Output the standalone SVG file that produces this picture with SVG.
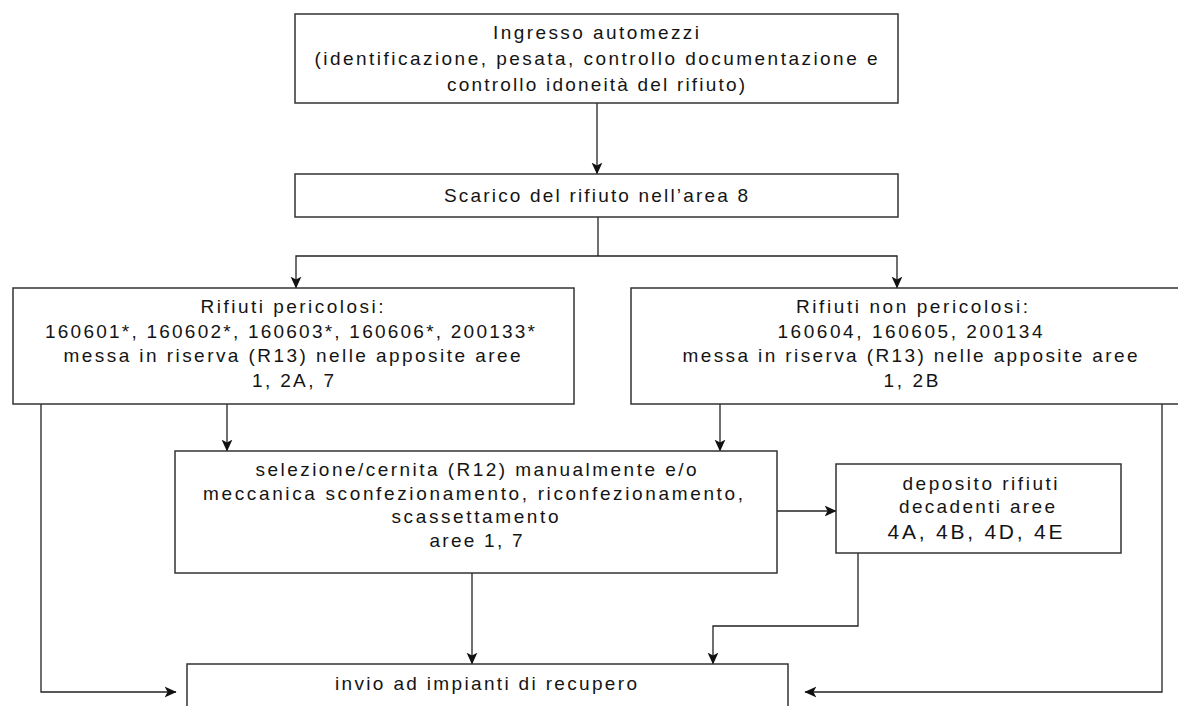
<svg xmlns="http://www.w3.org/2000/svg" width="1178" height="706" viewBox="0 0 1178 706">
<style>
.box{fill:#fff;stroke:#333;stroke-width:1.5}
.t{font-family:"Liberation Sans",Arial,sans-serif;font-size:19px;fill:#141414;text-anchor:middle}
.big{font-size:21px}
.ln{fill:none;stroke:#222;stroke-width:1.3}
</style>
<defs>
<marker id="ah" markerUnits="userSpaceOnUse" markerWidth="12" markerHeight="12" viewBox="0 0 10 10" refX="9.5" refY="5" orient="auto">
<path d="M0,0.5 L10,5 L0,9.5 L2.5,5 z" fill="#111"/>
</marker>
</defs>
<rect width="1178" height="706" fill="#fff"/>
<g id="connectors">
<path class="ln" d="M597 103 V174" marker-end="url(#ah)"/>
<path class="ln" d="M598 217 V256"/>
<path class="ln" d="M598 256 H296 V288" marker-end="url(#ah)"/>
<path class="ln" d="M598 256 H897 V288" marker-end="url(#ah)"/>
<path class="ln" d="M41 404 V692 H176" marker-end="url(#ah)"/>
<path class="ln" d="M227 404 V451" marker-end="url(#ah)"/>
<path class="ln" d="M720 404 V451" marker-end="url(#ah)"/>
<path class="ln" d="M777 511 H836" marker-end="url(#ah)"/>
<path class="ln" d="M472 573 V664" marker-end="url(#ah)"/>
<path class="ln" d="M858 553 V626 H713 V664" marker-end="url(#ah)"/>
<path class="ln" d="M1162 404 V692 H805" marker-end="url(#ah)"/>
</g>
<g id="ingresso">
<rect class="box" x="295" y="14" width="603" height="89"/>
<text class="t" x="596" y="39" textLength="206" lengthAdjust="spacing">Ingresso automezzi</text>
<text class="t" x="596" y="65" textLength="563" lengthAdjust="spacing">(identificazione, pesata, controllo documentazione e</text>
<text class="t" x="596" y="91" textLength="298" lengthAdjust="spacing">controllo idoneità del rifiuto)</text>
</g>
<g id="scarico">
<rect class="box" x="295" y="174" width="603" height="43"/>
<text class="t" x="596" y="202" textLength="304" lengthAdjust="spacing">Scarico del rifiuto nell’area 8</text>
</g>
<g id="pericolosi">
<rect class="box" x="13" y="288" width="561" height="116"/>
<text class="t" x="292" y="313" textLength="183" lengthAdjust="spacing">Rifiuti pericolosi:</text>
<text class="t" x="290" y="338" textLength="490" lengthAdjust="spacing">160601*, 160602*, 160603*, 160606*, 200133*</text>
<text class="t" x="292" y="362" textLength="457" lengthAdjust="spacing">messa in riserva (R13) nelle apposite aree</text>
<text class="t" x="293" y="387" textLength="82" lengthAdjust="spacing">1, 2A, 7</text>
</g>
<g id="non-pericolosi">
<rect class="box" x="631" y="288" width="570" height="116"/>
<text class="t" x="912" y="313" textLength="232" lengthAdjust="spacing">Rifiuti non pericolosi:</text>
<text class="t" x="910" y="338" textLength="265" lengthAdjust="spacing">160604, 160605, 200134</text>
<text class="t" x="910" y="362" textLength="455" lengthAdjust="spacing">messa in riserva (R13) nelle apposite aree</text>
<text class="t" x="911" y="387" textLength="55" lengthAdjust="spacing">1, 2B</text>
</g>
<g id="selezione">
<rect class="box" x="175" y="451" width="602" height="122"/>
<text class="t" x="476" y="476" textLength="441" lengthAdjust="spacing">selezione/cernita (R12) manualmente e/o</text>
<text class="t" x="473" y="500" textLength="540" lengthAdjust="spacing">meccanica sconfezionamento, riconfezionamento,</text>
<text class="t" x="475" y="523" textLength="167" lengthAdjust="spacing">scassettamento</text>
<text class="t" x="476" y="547" textLength="93" lengthAdjust="spacing">aree 1, 7</text>
</g>
<g id="deposito">
<rect class="box" x="836" y="464" width="285" height="89"/>
<text class="t" x="980" y="490" textLength="155" lengthAdjust="spacing">deposito rifiuti</text>
<text class="t" x="977" y="513" textLength="156" lengthAdjust="spacing">decadenti aree</text>
<text class="t big" x="975" y="539" textLength="175" lengthAdjust="spacing">4A, 4B, 4D, 4E</text>
</g>
<g id="invio">
<rect class="box" x="187" y="664" width="601" height="60"/>
<text class="t" x="486" y="690" textLength="302" lengthAdjust="spacing">invio ad impianti di recupero</text>
</g>
</svg>
